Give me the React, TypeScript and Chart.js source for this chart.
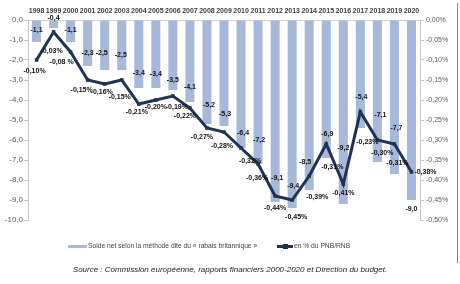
import React, { useEffect, useRef } from "react";
import { Chart, registerables } from "chart.js";

Chart.register(...registerables);

const years = ["1998","1999","2000","2001","2002","2003","2004","2005","2006","2007","2008","2009","2010","2011","2012","2013","2014","2015","2016","2017","2018","2019","2020"];
const soldeNet = [-1.1,-0.4,-1.1,-2.3,-2.5,-2.5,-3.4,-3.4,-3.5,-4.1,-5.2,-5.3,-6.4,-7.2,-9.1,-9.4,-8.5,-6.9,-9.2,-5.4,-7.1,-7.7,-9.0];
const pctPNB = [-0.10,-0.03,-0.08,-0.15,-0.16,-0.15,-0.21,-0.20,-0.19,-0.22,-0.27,-0.28,-0.32,-0.36,-0.44,-0.45,-0.39,-0.31,-0.41,-0.23,-0.30,-0.31,-0.38];
const barLegend = "Solde net selon la méthode dite du « rabais britannique »";
const lineLegend = "en % du PNB/RNB";
const sourceText = "Source : Commission européenne, rapports financiers 2000-2020 et Direction du budget.";

// label placement offsets (px) relative to mark
const barLabelDx = [0,0,0,0,-3,-1,0,0,0,0,2,1,2,1,2,1,-4,1,0,1,3,2,0];
const barLabelDy = [-12,-10,-12,-13,-17,-15,-15,-14,-10,-15,-19,-12,-15,-24,-24,-22,-28,-24,-56,-31,-47,-46,9];
const lineLabelDx = [-2,-2,-9,-6,-3,-2,-2,0,4,-5,-5,-2,9,-1,0,4,8,6,0,7,5,3,14];
const lineLabelDy = [11,19,10,10,8,17,8,7,11,8,9,14,13,14,12,17,21,23,9,30,13,19,0];

const BAR_COLOR = "#a6b9d9";
const LINE_COLOR = "#1f3354";
const FONT = "'Liberation Sans', Arial, sans-serif";

const fmtComma = (v: number, d: number) => {
  const s = Math.abs(v) < 1e-9 ? (0).toFixed(d) : v.toFixed(d);
  return s.replace(".", ",");
};

const labelPlugin = {
  id: "valueLabels",
  afterDatasetsDraw(chart: any) {
    const ctx = chart.ctx;
    ctx.save();
    ctx.font = `bold 7px ${FONT}`;
    ctx.fillStyle = "#111";
    ctx.textBaseline = "middle";
    const barMeta = chart.getDatasetMeta(1);
    barMeta.data.forEach((el: any, i: number) => {
      ctx.textAlign = "center";
      ctx.fillText(fmtComma(soldeNet[i], 1), el.x + barLabelDx[i], el.y + barLabelDy[i]);
    });
    const lineMeta = chart.getDatasetMeta(0);
    lineMeta.data.forEach((el: any, i: number) => {
      ctx.textAlign = "center";
      const txt = fmtComma(pctPNB[i], 2) + (i === 2 ? " %" : "%");
      ctx.fillText(txt, el.x + lineLabelDx[i], el.y + lineLabelDy[i]);
    });
    ctx.restore();
  },
};

export default function App() {
  const ref = useRef<HTMLCanvasElement>(null);
  useEffect(() => {
    if (!ref.current) return;
    const chart = new Chart(ref.current, {
      type: "bar",
      data: {
        labels: years,
        datasets: [
          {
            type: "line",
            label: lineLegend,
            data: pctPNB,
            yAxisID: "y2",
            borderColor: LINE_COLOR,
            backgroundColor: LINE_COLOR,
            borderWidth: 3,
            pointStyle: "rect",
            pointRadius: 2.5,
            pointBorderWidth: 0,
            tension: 0,
            order: 0,
          } as any,
          {
            type: "bar",
            label: barLegend,
            data: soldeNet,
            yAxisID: "y",
            backgroundColor: BAR_COLOR,
            borderWidth: 0,
            barPercentage: 0.53,
            categoryPercentage: 1,
            order: 1,
          },
        ],
      },
      options: {
        animation: false,
        responsive: false,
        maintainAspectRatio: false,
        layout: { padding: { left: 0, right: 0, top: 0, bottom: 64 } },
        plugins: { legend: { display: false }, tooltip: { enabled: false } },
        scales: {
          x: {
            position: "top",
            offset: true,
            grid: { display: false, drawTicks: false },
            border: { display: true, color: "#d0d0d0" },
            ticks: {
              autoSkip: false,
              maxRotation: 0,
              padding: 5,
              color: "#404040",
              font: { family: FONT, size: 7, weight: "bold" },
            },
            afterFit(scale: any) { scale.height = 20; },
          },
          y: {
            position: "left",
            min: -10,
            max: 0,
            grid: { drawOnChartArea: false, drawTicks: true, tickLength: 4, color: "#c8c8c8" },
            border: { display: true, color: "#c8c8c8" },
            ticks: {
              stepSize: 1,
              padding: 1,
              color: "#595959",
              font: { family: FONT, size: 8 },
              callback: (v: any) => fmtComma(Number(v), 1),
            },
            afterFit(scale: any) { scale.width = 28; },
          },
          y2: {
            position: "right",
            min: -0.5,
            max: 0,
            grid: { drawOnChartArea: false, drawTicks: true, tickLength: 4, color: "#c8c8c8" },
            border: { display: true, color: "#c8c8c8" },
            ticks: {
              stepSize: 0.05,
              padding: 2,
              color: "#595959",
              font: { family: FONT, size: 7 },
              callback: (v: any) => fmtComma(Number(v), 2) + "%",
            },
            afterFit(scale: any) { scale.width = 40; },
          },
        },
      },
      plugins: [labelPlugin],
    });
    return () => chart.destroy();
  }, []);

  return (
    <div style={{ position: "fixed", left: 0, top: 0, width: 460, height: 284, background: "#fff", overflow: "hidden", fontFamily: FONT }}>
      <canvas ref={ref} width={460} height={284} style={{ position: "absolute", left: 0, top: 0, width: 460, height: 284 }} />
      <div style={{ position: "absolute", left: 457, top: 3, width: 1, height: 260, background: "#808080" }} />
      <div style={{ position: "absolute", left: 68, top: 245, width: 19, height: 3, background: BAR_COLOR }} />
      <div style={{ position: "absolute", left: 88, top: 241, fontSize: 6.7, lineHeight: "10px", color: "#404040", whiteSpace: "nowrap" }}>{barLegend}</div>
      <div style={{ position: "absolute", left: 277, top: 245, width: 16, height: 2.5, background: LINE_COLOR }} />
      <div style={{ position: "absolute", left: 283, top: 243.5, width: 5, height: 5, background: LINE_COLOR }} />
      <div style={{ position: "absolute", left: 294, top: 241, fontSize: 6.7, lineHeight: "10px", color: "#404040", whiteSpace: "nowrap" }}>{lineLegend}</div>
      <div style={{ position: "absolute", left: 0, top: 264, width: 460, textAlign: "center", fontSize: 8, lineHeight: "12px", fontStyle: "italic", color: "#222", whiteSpace: "nowrap" }}>{sourceText}</div>
    </div>
  );
}
